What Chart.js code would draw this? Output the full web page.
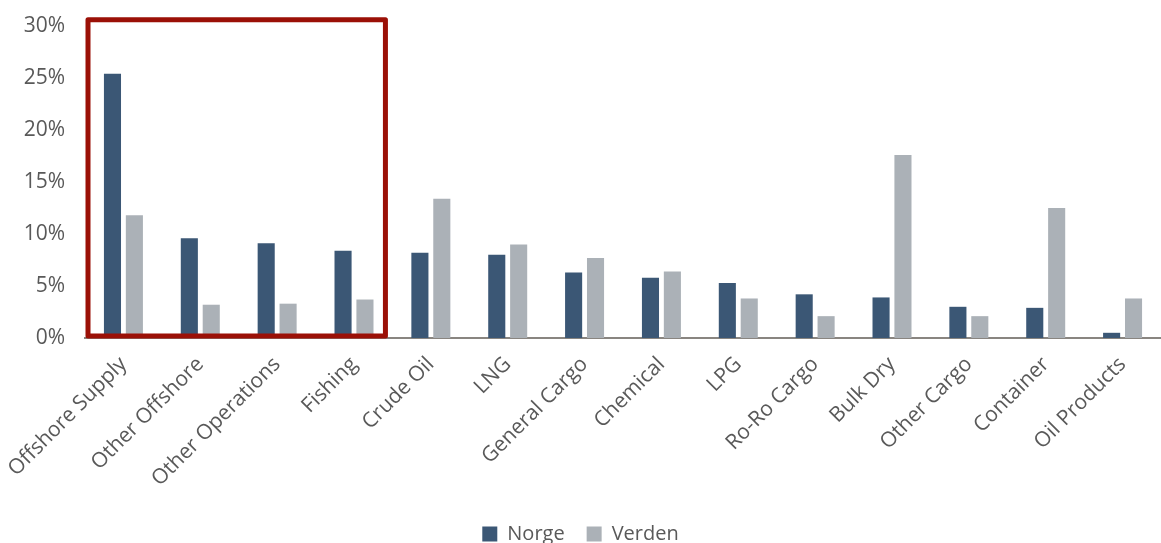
<!DOCTYPE html>
<html>
<head>
<meta charset="utf-8">
<script src="https://cdn.jsdelivr.net/npm/chart.js@4"></script>
<style>
  html, body { margin: 0; padding: 0; background: #ffffff; }
  #chartContainer { width: 1161px; height: 543px; }
</style>
</head>
<body>
<div id="chartContainer"><canvas id="myChart"></canvas></div>
<script>
// Skipstyper
var categories = ['Offshore Supply', 'Other Offshore', 'Other Operations', 'Fishing', 'Crude Oil', 'LNG',
    'General Cargo', 'Chemical', 'LPG', 'Ro-Ro Cargo', 'Bulk Dry', 'Other Cargo', 'Container', 'Oil Products'];

// Andel i prosent
var norge = [25.4, 9.6, 9.1, 8.4, 8.2, 8.0, 6.3, 5.8, 5.3, 4.2, 3.9, 3.0, 2.9, 0.5];
var verden = [11.8, 3.2, 3.3, 3.7, 13.4, 9.0, 7.7, 6.4, 3.8, 2.1, 17.6, 2.1, 12.5, 3.8];

var yTicks = [0, 5, 10, 15, 20, 25, 30];

// Rød ramme rundt de fire første kategoriene
var highlightBox = {
    id: 'highlightBox',
    afterDatasetsDraw: function (chart) {
        var x = chart.scales.x;
        var y = chart.scales.y;
        var ctx = chart.ctx;
        var left = x.getPixelForValue(-0.5) + 3;
        var right = x.getPixelForValue(3.5) - 7;
        var top = y.getPixelForValue(30.6);
        var bottom = y.getPixelForValue(0) - 2;
        ctx.save();
        ctx.strokeStyle = '#9b1007';
        ctx.lineWidth = 5;
        ctx.lineJoin = 'round';
        ctx.strokeRect(left, top, right - left, bottom - top);
        ctx.restore();
    }
};

var ctx = document.getElementById('myChart').getContext('2d');
var myChart = new Chart(ctx, {
    type: 'bar',
    data: {
        labels: categories,
        datasets: [{
            label: 'Norge',
            data: norge,
            backgroundColor: '#3b5775',
            categoryPercentage: 0.57,
            barPercentage: 0.78
        }, {
            label: 'Verden',
            data: verden,
            backgroundColor: '#abb1b7',
            categoryPercentage: 0.57,
            barPercentage: 0.78
        }]
    },
    options: {
        responsive: true,
        maintainAspectRatio: false,
        animation: false,
        layout: {
            padding: { left: 0, right: 0, top: 26, bottom: -11 }
        },
        plugins: {
            legend: {
                position: 'bottom',
                labels: {
                    color: '#595959',
                    font: { family: 'Open Sans', size: 20 },
                    boxWidth: 15,
                    boxHeight: 15,
                    padding: 22
                }
            },
            tooltip: { enabled: false }
        },
        scales: {
            x: {
                grid: { display: false, drawTicks: false },
                border: { display: true, color: '#898580', width: 2 },
                ticks: {
                    color: '#595959',
                    font: { family: 'Open Sans', size: 21 },
                    minRotation: 45,
                    maxRotation: 45,
                    autoSkip: false,
                    padding: 14
                },
                afterFit: function (scale) {
                    scale.height = 164;
                    scale.paddingLeft = 0;
                    scale.paddingRight = 0;
                }
            },
            y: {
                min: 0,
                max: 30,
                grid: { display: false, drawTicks: false },
                border: { display: false },
                afterBuildTicks: function (axis) {
                    axis.ticks = yTicks.map(function (v) { return { value: v }; });
                },
                afterFit: function (scale) {
                    scale.width = 85;
                    scale.paddingTop = 0;
                    scale.paddingBottom = 0;
                },
                ticks: {
                    color: '#595959',
                    font: { family: 'Open Sans', size: 21 },
                    padding: 20,
                    callback: function (value) { return value + '%'; }
                }
            }
        }
    },
    plugins: [highlightBox]
});
</script>
</body>
</html>
